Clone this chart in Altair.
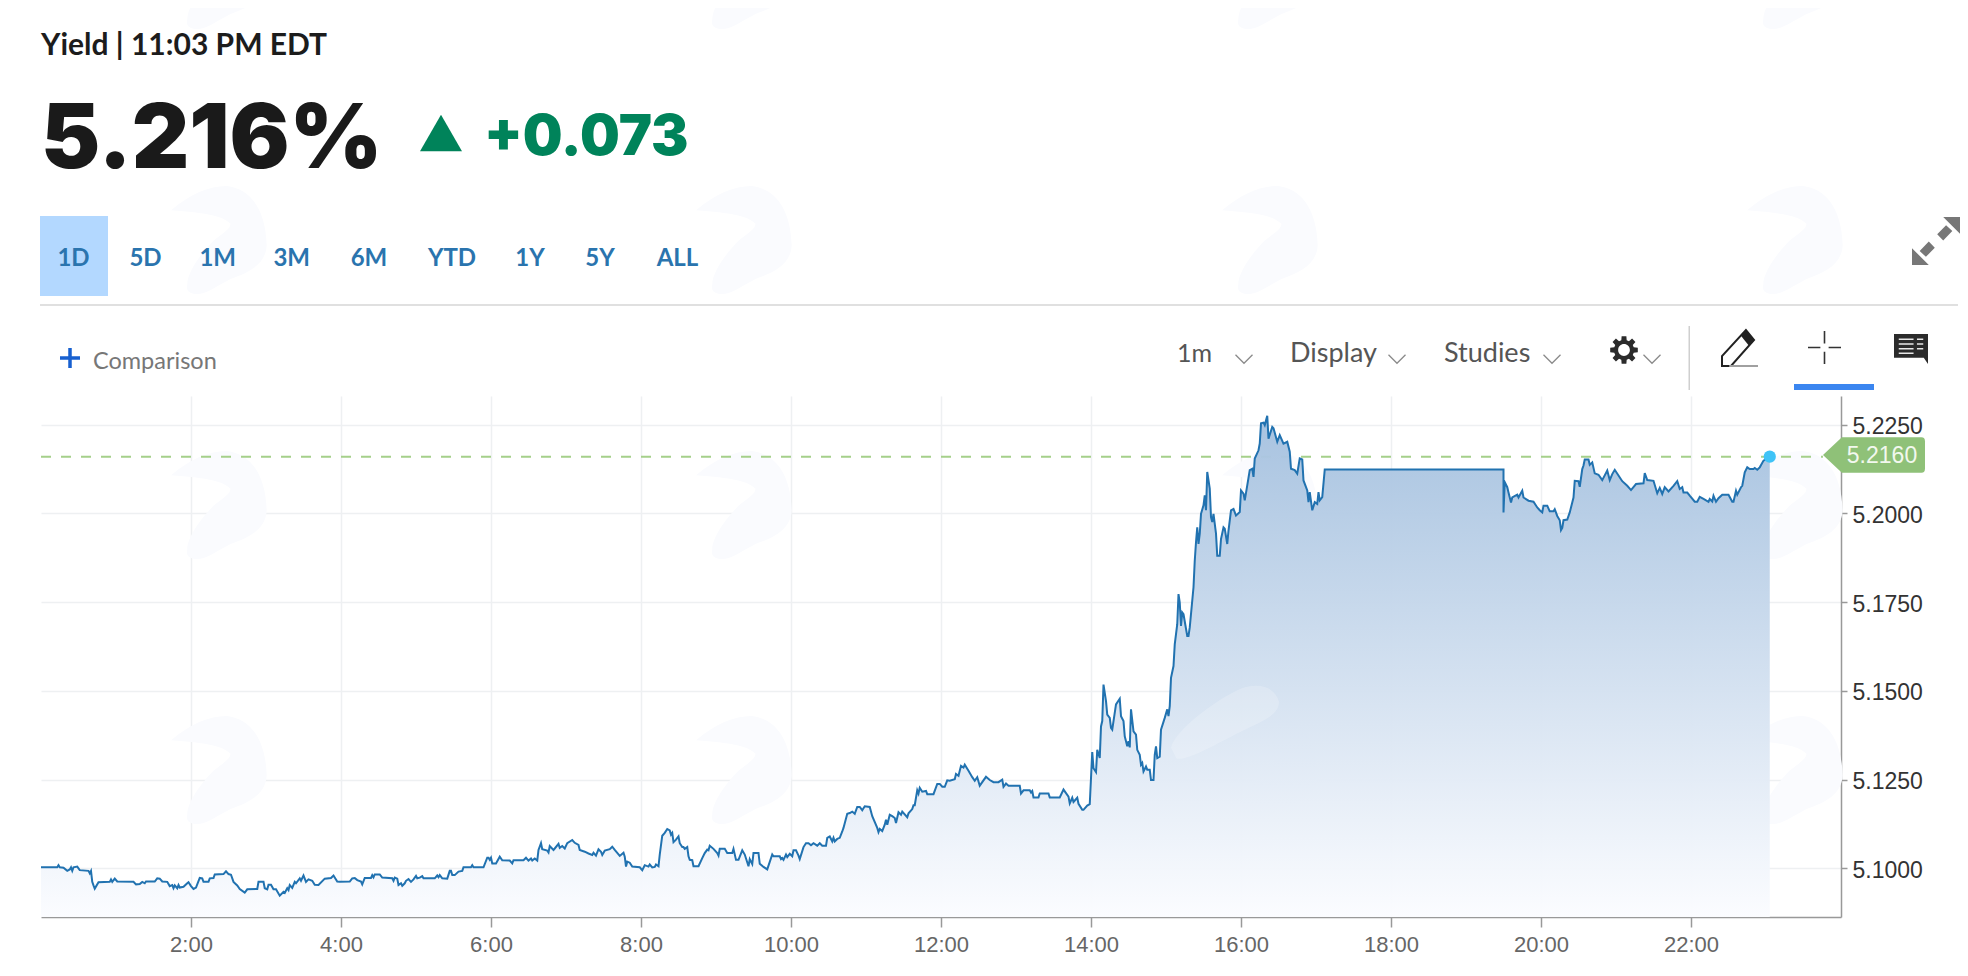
import math
import altair as alt
import pandas as pd

# ---- series: (minute of the day, yield) ----
NIGHT_1 = [(0,5.1003),(13,5.1003),(14,5.1009),(15,5.1003),(18,5.1002),(21,5.0993),(23,5.0997),(24,5.1003),(25,5.0993),(26,5.1003),(29,5.1005),(31,5.0995),(38,5.0993),(39,5.0986),(40,5.0993),(41,5.0962),(42,5.0952),(43,5.0943),(46,5.0961),(55,5.0962),(56,5.0969),(57,5.0962),(59,5.0971),(61,5.0963),(74,5.0962),(76,5.0955),(79,5.0956),(81,5.0962),(83,5.0958),(84,5.0963),(91,5.0963),(93,5.0972),(95,5.0971),(97,5.0963),(101,5.0962),(103,5.0950),(105,5.0953),(106,5.0944),(107,5.0952),(109,5.0944),(110,5.0953),(111,5.0946),(114,5.0948),(117,5.0958),(118,5.0961),(120,5.0950),(122,5.0942),(124,5.0946),(127,5.0973),(129,5.0972),(130,5.0962),(134,5.0962),(135,5.0972),(138,5.0973),(139,5.0983),(146,5.0984),(148,5.0992),(150,5.0984),(152,5.0982),(154,5.0962),(157,5.0952),(159,5.0942),(163,5.0932),(165,5.0941),(173,5.0942),(174,5.0962),(178,5.0962),(179,5.0944),(181,5.0941),(182,5.0954),(184,5.0954),(186,5.0941),(188,5.0941),(191,5.0923),(194,5.0934),(195,5.0931),(197,5.0944),(198,5.0939),(199,5.0953),(201,5.0945),(203,5.0962),(204,5.0958),(207,5.0972),(208,5.0965),(210,5.0980),(212,5.0962),(214,5.0969),(217,5.0965),(219,5.0954),(222,5.0953),(227,5.0971),(232,5.0973),(234,5.0980),(237,5.0963),(239,5.0962)]
NIGHT_2 = [(247,5.0963),(249,5.0972),(251,5.0973),(253,5.0967),(256,5.0963),(257,5.0955),(259,5.0973),(264,5.0973),(265,5.0981),(266,5.0975),(267,5.0983),(271,5.0983),(273,5.0974),(281,5.0972),(282,5.0965),(283,5.0974),(285,5.0971),(286,5.0953),(288,5.0958),(289,5.0951),(291,5.0958),(292,5.0965),(294,5.0970),(296,5.0962),(298,5.0969),(300,5.0979),(301,5.0972),(303,5.0974),(305,5.0978),(306,5.0972),(315,5.0972),(317,5.0980),(318,5.0975),(319,5.0981),(321,5.0972),(325,5.0971),(327,5.0993),(328,5.0993),(329,5.0981),(331,5.0981),(334,5.0991),(337,5.0993),(338,5.1003),(344,5.1003),(345,5.1009),(346,5.1003),(354,5.1003),(357,5.1030),(358,5.1030),(359,5.1024),(360,5.1030),(361,5.1014),(364,5.1014),(367,5.1033),(369,5.1023),(375,5.1022),(377,5.1014),(378,5.1023),(386,5.1023),(388,5.1030),(390,5.1022),(392,5.1028),(393,5.1022),(395,5.1028),(397,5.1022),(398,5.1052),(400,5.1071),(401,5.1054),(405,5.1050),(406,5.1045),(407,5.1063),(410,5.1052),(411,5.1056),(414,5.1069),(415,5.1058),(417,5.1063),(419,5.1056),(421,5.1071),(425,5.1080),(427,5.1072),(430,5.1066),(431,5.1052),(435,5.1047),(438,5.1042),(441,5.1038),(442,5.1044),(444,5.1036),(446,5.1054),(448,5.1047),(449,5.1038),(451,5.1050),(455,5.1054),(457,5.1061),(459,5.1052),(463,5.1035),(466,5.1044),(467,5.1033),(468,5.1005),(469,5.1019),(471,5.1016),(473,5.1005),(479,5.1003),(481,5.0995),(483,5.1009),(486,5.1005),(487,5.1011),(489,5.1003)]
MORNING = [(491,5.1004),(492,5.1011),(494,5.1006),(495,5.1039),(497,5.1092),(499,5.1100),(501,5.1111),(503,5.1107),(504,5.1095),(505,5.1100),(506,5.1074),(508,5.1081),(510,5.1090),(511,5.1071),(513,5.1060),(514,5.1060),(515,5.1055),(517,5.1060),(518,5.1034),(519,5.1024),(521,5.1023),(522,5.1006),(526,5.1006),(529,5.1029),(531,5.1043),(533,5.1053),(534,5.1051),(535,5.1064),(538,5.1055),(541,5.1043),(542,5.1036),(543,5.1055),(547,5.1055),(549,5.1043),(553,5.1043),(554,5.1055),(556,5.1024),(558,5.1024),(561,5.1051),(563,5.1039),(566,5.1006),(567,5.1026),(569,5.1012),(570,5.1043),(574,5.1043),(575,5.1013),(578,5.1004),(581,5.0997),(585,5.1039),(586,5.1034),(591,5.1034),(592,5.1026),(593,5.1029),(594,5.1024),(596,5.1039),(597,5.1032),(599,5.1041),(601,5.1034),(602,5.1051),(604,5.1051),(606,5.1036),(607,5.1026),(610,5.1060),(612,5.1071),(614,5.1071),(616,5.1065),(618,5.1071),(621,5.1064),(623,5.1071),(625,5.1064),(628,5.1064),(629,5.1086),(631,5.1090),(633,5.1076),(634,5.1086),(635,5.1076),(637,5.1083),(639,5.1086),(641,5.1104),(642,5.1114),(645,5.1154),(647,5.1156),(649,5.1160),(651,5.1154),(653,5.1173),(655,5.1173),(657,5.1164),(659,5.1175),(663,5.1173),(665,5.1147),(669,5.1114),(670,5.1102),(671,5.1111),(673,5.1105),(675,5.1123),(676,5.1137),(677,5.1123),(679,5.1151),(681,5.1147),(683,5.1142),(684,5.1128),(686,5.1158),(688,5.1151),(689,5.1160),(693,5.1144)]
MIDDAY = [(694,5.1155),(697,5.1167),(698,5.1178),(699,5.1178),(701,5.1220),(702,5.1211),(703,5.1227),(705,5.1216),(708,5.1218),(709,5.1209),(714,5.1209),(717,5.1238),(719,5.1238),(721,5.1230),(723,5.1230),(725,5.1248),(727,5.1247),(731,5.1251),(732,5.1266),(734,5.1261),(736,5.1289),(738,5.1284),(739,5.1292),(742,5.1275),(745,5.1257),(747,5.1247),(749,5.1257),(751,5.1233),(756,5.1258),(759,5.1249),(762,5.1243),(766,5.1243),(769,5.1250),(770,5.1230),(772,5.1239),(774,5.1233),(783,5.1233),(784,5.1211),(786,5.1220),(791,5.1220),(792,5.1214),(793,5.1218),(794,5.1200),(798,5.1200),(799,5.1211),(806,5.1211),(807,5.1200),(815,5.1200),(818,5.1222),(822,5.1202),(823,5.1183),(825,5.1199),(826,5.1187),(829,5.1199),(830,5.1182),(833,5.1165),(834,5.1165),(837,5.1177),(839,5.1181)]
AFTERNOON = [(840,5.1254),(841,5.1328),(842,5.1282),(844,5.1271),(845,5.1334),(847,5.1311),(848,5.1400),(849,5.1415),(850,5.1518),(852,5.1471),(853,5.1433),(855,5.1424),(856,5.1396),(857,5.1391),(860,5.1462),(863,5.1478),(864,5.1429),(866,5.1415),(867,5.1372),(869,5.1344),(870,5.1358),(871,5.1341),(872,5.1448),(874,5.1386),(876,5.1377),(877,5.1334),(879,5.1320),(880,5.1292),(881,5.1297),(882,5.1273),(884,5.1287),(885,5.1278),(887,5.1278),(888,5.1249),(890,5.1249),(891,5.1320),(892,5.1344),(893,5.1311),(895,5.1315),(896,5.1391),(899,5.1424),(901,5.1448),(902,5.1429),(903,5.1457),(904,5.1537),(906,5.1570),(907,5.1631),(909,5.1688),(910,5.1773),(911,5.1749),(912,5.1683),(913,5.1721),(914,5.1716),(917,5.1655),(918,5.1655),(919,5.1679),(922,5.1792),(923,5.1867),(924,5.1919),(925,5.1961),(926,5.1914),(927,5.1943),(928,5.1999),(930,5.2023),(931,5.2051),(932,5.2009),(933,5.2117),(935,5.2070),(936,5.1990),(937,5.1976),(938,5.1999),(940,5.1943),(941,5.1881),(943,5.1881),(944,5.1928),(946,5.1961),(947,5.1957),(949,5.1914),(950,5.1952),(952,5.2009),(954,5.2013),(956,5.1994),(959,5.2004),(960,5.2065),(962,5.2056),(963,5.2037),(965,5.2079),(967,5.2122),(969,5.2126),(970,5.2103),(971,5.2155),(974,5.2178),(975,5.2197),(976,5.2254),(978,5.2256),(979,5.2249),(981,5.2275),(982,5.2211),(985,5.2244),(986,5.2240),(989,5.2202),(991,5.2221),(994,5.2197),(997,5.2202),(999,5.2174),(1000,5.2126),(1003,5.2122),(1005,5.2112),(1007,5.2155),(1009,5.2152),(1010,5.2093),(1013,5.2065),(1014,5.2032),(1015,5.2060),(1017,5.2009),(1019,5.2032),(1021,5.2027),(1022,5.2060),(1023,5.2037),(1025,5.2046),(1027,5.2124)]
EVENING = [(1170,5.2124),(1170,5.2003),(1171,5.2088),(1173,5.2074),(1174,5.2059),(1176,5.2031),(1177,5.2045),(1181,5.2053),(1182,5.2045),(1185,5.2064),(1186,5.2045),(1190,5.2036),(1194,5.2033),(1197,5.2017),(1199,5.2009),(1201,5.2003),(1202,5.2022),(1205,5.2022),(1207,5.2006),(1210,5.2006),(1211,5.2012),(1213,5.1993),(1215,5.1981),(1216,5.1953),(1217,5.1959),(1218,5.1981),(1221,5.1983),(1223,5.2003),(1226,5.2045),(1227,5.2092),(1230,5.2091),(1231,5.2075),(1233,5.2125),(1234,5.2135),(1235,5.2152),(1238,5.2152),(1239,5.2137),(1241,5.2144),(1243,5.2113),(1246,5.2109),(1249,5.2094),(1253,5.2121),(1255,5.2094),(1257,5.2111),(1259,5.2123),(1262,5.2107),(1265,5.2091),(1269,5.2078),(1272,5.2066),(1276,5.2083),(1282,5.2085),(1283,5.2114),(1285,5.2094),(1290,5.2092),(1293,5.2057),(1295,5.2072),(1297,5.2055),(1299,5.2074),(1302,5.2062),(1306,5.2078),(1309,5.2091),(1311,5.2069),(1313,5.2074),(1314,5.2059),(1317,5.2059),(1319,5.2050),(1323,5.2033),(1325,5.2033),(1327,5.2047),(1330,5.2041),(1334,5.2033),(1335,5.2041),(1337,5.2034),(1338,5.2050),(1340,5.2033),(1342,5.2043),(1345,5.2053),(1350,5.2053),(1353,5.2033),(1354,5.2033),(1356,5.2064),(1357,5.2053),(1360,5.2074),(1361,5.2078),(1363,5.2116),(1365,5.2130),(1367,5.2125),(1370,5.2125),(1371,5.2128),(1373,5.2123),(1375,5.2130),(1378,5.2149),(1383,5.2160)]

LAST_MINUTE = 1383
LAST_YIELD = 5.2160
X_TICKS = [120, 240, 360, 480, 600, 720, 840, 960, 1080, 1200, 1320]
Y_TICKS = [5.1, 5.125, 5.15, 5.175, 5.2, 5.225]
RANGES = ["1D", "5D", "1M", "3M", "6M", "YTD", "1Y", "5Y", "ALL"]
RANGE_X = [73.5, 145.5, 217.7, 291.7, 369, 452, 530, 600, 677.5]
MARK_X = [217, 742, 1268, 1793]
MARK_Y = [-25, 240, 505, 770]

rows = NIGHT_1 + NIGHT_2 + MORNING + MIDDAY + AFTERNOON + EVENING
df = pd.DataFrame(rows, columns=["minute", "yield"])
df["i"] = range(len(df))

L, T, W, H = 41, 396, 1800, 521
xs = alt.Scale(domain=[0, 1440], nice=False, zero=False)
ys = alt.Scale(domain=[5.0863, 5.2331], nice=False, zero=False)
one = alt.Data(values=[{"a": 1}])

GRID = "#eef0f2"
AXIS = "#999999"
FONT = "Lato"

axis_x = alt.Axis(values=X_TICKS, labelExpr="(datum.value / 60) + ':00'", grid=True, gridColor=GRID, gridWidth=1.5,
                  tickColor=AXIS, tickSize=10, tickWidth=1.5, domainColor=AXIS, domainWidth=1.5,
                  labelColor="#666666", labelFont="Liberation Sans", labelFontSize=22, labelPadding=7, title=None, labelFlush=False)
axis_y = alt.Axis(orient="right", values=Y_TICKS, format=".4f", grid=True, gridColor=GRID, gridWidth=1.5,
                  tickColor=AXIS, tickSize=6, tickWidth=1.5, domainColor=AXIS, domainWidth=1.5, labelOffset=2,
                  labelColor="#333333", labelFont="Liberation Sans", labelFontSize=23, labelPadding=5, title=None)
X_ENC = alt.X("minute:Q", scale=xs, axis=axis_x)
Y_ENC = alt.Y("yield:Q", scale=ys, axis=axis_y, stack=None)

def px(v):
    return alt.value(v - L)

def py(v):
    return alt.value(v - T)

def label(s, x, y, size, color, weight=400, align="left", font=FONT):
    return alt.Chart(one).mark_text(
        font=font, fontSize=size, fontWeight=weight, align=align, baseline="alphabetic", color=color
    ).encode(x=px(x), y=py(y), text=alt.value(s))

def rect(x0, x1, y0, y1, color, **kw):
    return alt.Chart(one).mark_rect(color=color, **kw).encode(x=px(x0), x2=px(x1), y=py(y0), y2=py(y1))

def icon(path, x, y, width, fill=None, stroke=None, sw=1.5, opacity=1):
    kw = dict(shape=path, size=width * width, opacity=opacity, strokeWidth=sw)
    if fill:
        kw.update(filled=True, fill=fill, stroke=stroke or fill, strokeWidth=sw if stroke else 0)
    else:
        kw.update(filled=False, stroke=stroke)
    return alt.Chart(one).mark_point(**kw).encode(x=px(x), y=py(y))

def gear_path():
    n = 8
    pts = []
    for k in range(n):
        a = 2 * math.pi * k / n
        for da, r in [(-0.27, 0.72), (-0.17, 1.0), (0.17, 1.0), (0.27, 0.72)]:
            pts.append((r * math.cos(a + da), r * math.sin(a + da)))
    d = "M" + " L".join(f"{p[0]:.3f},{p[1]:.3f}" for p in pts) + " Z"
    d += " M0.42,0 A0.42,0.42 0 1 0 -0.42,0 A0.42,0.42 0 1 0 0.42,0 Z"
    return d

LOGO = "M-0.85,-0.55 C-0.5,-0.85 -0.15,-1 0.18,-1 C0.6,-0.95 0.9,-0.6 0.92,0.1 C0.9,0.45 0.6,0.6 0.25,0.72 C0,0.85 -0.2,1 -0.37,1 C-0.5,1 -0.58,0.95 -0.55,0.82 C-0.55,0.6 -0.3,0.25 -0.06,0.01 C0.1,-0.12 0.25,-0.2 0.25,-0.3 C0.1,-0.45 -0.2,-0.5 -0.85,-0.55 Z"
SWOOSH = "M-1,0.55 C-0.9,0.2 -0.2,-0.3 0.2,-0.5 C0.5,-0.65 0.9,-0.65 1,-0.3 C1,-0.05 0.7,0.05 0.3,0.25 C-0.2,0.5 -0.7,0.8 -0.9,0.75 Z"
CHEVRON = "M-1,-0.5 L0,0.5 L1,-0.5"
PENCIL = "M-1,1 L-1,0.45 L0.33,-1 L0.78,-0.45 L-0.5,1 Z"
PENCIL_TIP = "M0.05,-0.68 L0.33,-1 L0.78,-0.45 L0.5,-0.13 Z"
PENCIL_BASE = "M-0.6,1 L1,1"
CROSS = "M-1,0 L-0.25,0 M0.25,0 L1,0 M0,-1 L0,-0.25 M0,0.25 L0,1"
COMMENT = "M-1,-0.88 L1,-0.88 L1,0.88 L0.75,0.52 L-1,0.52 Z"
COMMENT_LINES = "M-0.72,-0.58 L0.15,-0.58 M0.35,-0.58 L0.72,-0.58 M-0.72,-0.3 L0.15,-0.3 M0.35,-0.3 L0.72,-0.3 M-0.72,-0.02 L0.15,-0.02 M0.35,-0.02 L0.72,-0.02 M-0.72,0.25 L0.15,0.25"
EXPAND = ("M0.3,-1 L1,-1 L1,-0.3 Z M0.42,-0.66 L0.68,-0.42 L0.3,-0.02 L0.05,-0.28 Z "
          "M-0.3,1 L-1,1 L-1,0.3 Z M-0.42,0.66 L-0.68,0.42 L-0.3,0.02 L-0.05,0.28 Z")
PLUS = "M-1,0 L1,0 M0,-1 L0,1"
TAG = "M-1,0 L-0.63,-0.35 L0.93,-0.35 Q1,-0.35 1,-0.27 L1,0.27 Q1,0.35 0.93,0.35 L-0.63,0.35 Z"

layers = []

# faint watermark behind everything
for wy in MARK_Y:
    for wx in MARK_X:
        layers.append(icon(LOGO, wx, wy, 108, fill="#fafbfe"))

base = alt.Chart(df)

# dashed last-price line
layers.append(alt.Chart(alt.Data(values=[{"yield": LAST_YIELD}])).mark_rule(
    color="#a5d08a", strokeWidth=2, strokeDash=[10, 10]
).encode(y=Y_ENC, x=alt.value(0), x2=px(1823)))

# area under the line
gradient = alt.Gradient(gradient="linear", x1=1, x2=1, y1=0, y2=1,
                        stops=[alt.GradientStop(color="#a5c1df", offset=0),
                               alt.GradientStop(color="#fbfcff", offset=1)])
layers.append(base.mark_area(color=gradient, opacity=0.97, interpolate="linear").encode(
    x=X_ENC, y=Y_ENC, y2=alt.value(H)))
layers.append(icon(SWOOSH, 1225, 718, 108, fill="#ffffff", opacity=0.2))

# line and last point
layers.append(base.mark_line(color="#2172b0", strokeWidth=2, interpolate="linear").encode(
    x=X_ENC, y=Y_ENC, order="i:Q"))
last = alt.Chart(alt.Data(values=[{"minute": LAST_MINUTE, "yield": LAST_YIELD}]))
layers.append(last.mark_point(filled=True, color="#3fc3f7", size=150, opacity=1).encode(x=X_ENC, y=Y_ENC))

# last price tag
layers.append(icon(TAG, 1874, 455, 102, fill="#8fc178"))
layers.append(label("5.2160", 1882, 463, 23, "#f2f8ee", align="center", font="Liberation Sans"))

# header
layers.append(label("Yield | 11:03 PM EDT", 41, 55, 30, "#1c1c1c", 700))
layers.append(label("5.216%", 41, 168, 89, "#1a1a1a", 900, font="Inter"))
layers.append(alt.Chart(one).mark_point(shape="triangle-up", filled=True, color="#00835a", size=1764, opacity=1).encode(x=px(441), y=py(133)))
layers.append(label("+0.073", 484, 155, 56, "#00835a", 900, font="Inter"))

# range selector
layers.append(rect(40, 108, 216, 296, "#b3d8ff"))
for name, cx in zip(RANGES, RANGE_X):
    layers.append(label(name, cx, 266, 24, "#2a74ae", 700, align="center"))
layers.append(rect(40, 1958, 304, 306, "#e0e0e0"))

# toolbar
layers.append(icon(PLUS, 70, 358, 20, stroke="#1760d0", sw=3.5))
layers.append(label("Comparison", 93, 369, 23.5, "#777777"))
layers.append(label("1m", 1177, 362, 25, "#555555"))
layers.append(label("Display", 1290, 362, 27, "#555555"))
layers.append(label("Studies", 1444, 362, 27, "#555555"))
for cx in [1244, 1397, 1552, 1652]:
    layers.append(icon(CHEVRON, cx, 359, 17, stroke="#8a8a8a", sw=1.3))
layers.append(icon(gear_path(), 1624, 350, 28, fill="#2b2b2b"))
layers.append(rect(1688.5, 1690, 326, 390, "#cfcfcf"))
layers.append(icon(PENCIL, 1740, 348, 36, stroke="#222222", sw=2))
layers.append(icon(PENCIL_TIP, 1740, 348, 36, fill="#222222"))
layers.append(icon(PENCIL_BASE, 1740, 348, 36, stroke="#a0a0a0", sw=2))
layers.append(icon(CROSS, 1824.5, 347.5, 33, stroke="#333333", sw=1.6))
layers.append(rect(1794, 1874, 384, 390, "#3b86f0"))
layers.append(icon(COMMENT, 1911, 349, 34, fill="#2b2b2b"))
layers.append(icon(COMMENT_LINES, 1911, 349, 34, stroke="#e8e8e8", sw=1.5))
layers.append(icon(EXPAND, 1936, 241, 48, fill="#777777"))

chart = alt.layer(*layers).properties(
    width=W,
    height=H,
    autosize=alt.AutoSizeParams(type="none"),
    padding={"left": L - 8, "top": T - 8, "right": 1968 - 16 - (L - 8) - W, "bottom": 976 - 16 - (T - 8) - H},
    background="#ffffff",
).configure_view(stroke=None)

chart.save("out.html", embed_options={"renderer": "svg", "actions": False})
